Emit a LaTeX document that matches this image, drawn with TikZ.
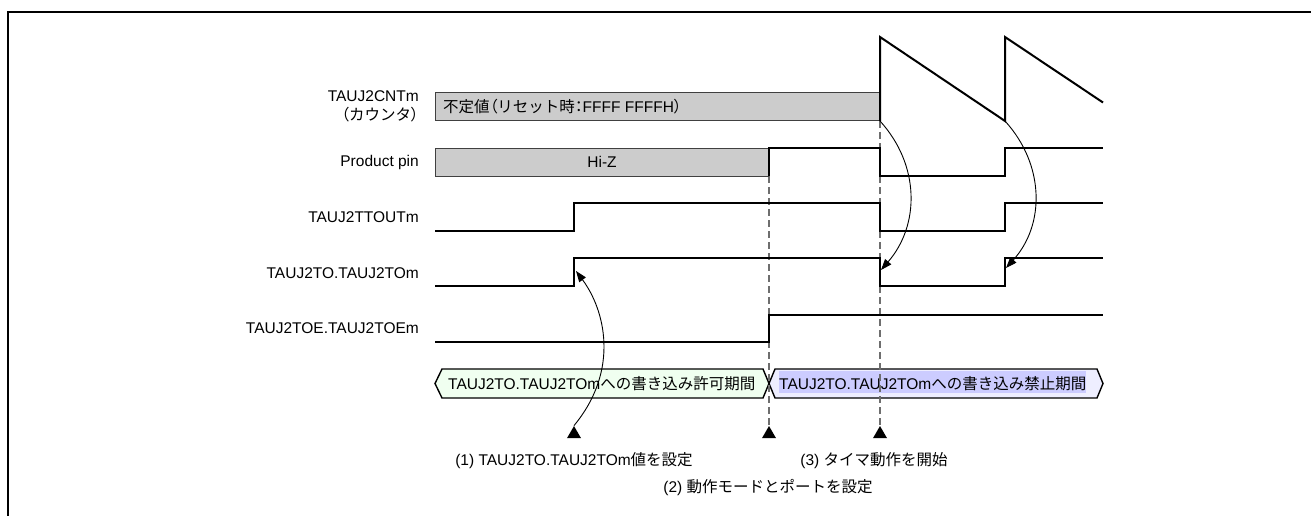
\documentclass[tikz,border=0pt]{standalone}
\usepackage{fontspec}
\setmainfont{Liberation Sans}
\newfontfamily\jpfont{Noto Sans CJK JP}
\newfontfamily\jppalt[RawFeature={+palt}]{Noto Sans CJK JP}
\newcommand\jt[1]{{\jpfont #1}}
\newcommand\jpn[1]{{\jppalt #1}}
\usetikzlibrary{arrows.meta,shapes.geometric}
\definecolor{hizgray}{RGB}{204,204,204}
\definecolor{okgreen}{RGB}{240,255,240}
\definecolor{ngblue}{RGB}{238,238,255}
\definecolor{nghl}{RGB}{204,204,255}
\definecolor{dashgray}{RGB}{110,110,110}
\begin{document}
\begin{tikzpicture}[x=1pt,y=-1pt,
  every node/.style={font=\fontsize{15.5}{18}\selectfont, inner sep=0pt},
  lbl/.style={anchor=base east},
  wave/.style={line width=2pt, line join=miter},
  hizline/.style={draw=black!75, line width=1pt},
  hexbox/.style={draw=black, line width=1.4pt, line join=miter},
  guide/.style={draw=dashgray, dash pattern=on 7pt off 4pt, line width=1.6pt},
  marker/.style={regular polygon, regular polygon sides=3, minimum size=16.2pt, fill=black, inner sep=0pt},
  link/.style={line width=0.9pt, -{Triangle[length=11pt,width=8pt]}},
]
\useasboundingbox (0,0) rectangle (1311,516);
\draw[line width=2.5pt] (8,516) -- (8,12) -- (1311,12);

% signal labels
\node[lbl] (lcnt) at (419,102) {TAUJ2CNTm};
\node[lbl] (lcnt2) at (419,121) {\jpn{（}\jt{カウンタ}\jpn{）}};
\node[lbl] (lpin) at (419,166.5) {Product pin};
\node[lbl] (lttout) at (419,222.5) {TAUJ2TTOUTm};
\node[lbl] (lto) at (419,278) {TAUJ2TO.TAUJ2TOm};
\node[lbl] (ltoe) at (419,333) {TAUJ2TOE.TAUJ2TOEm};

% period hexagons
\draw[hexbox, fill=okgreen] (435,383.5) -- (442,369) -- (763,369) -- (769,383.5) -- (763,398) -- (442,398) -- cycle;
\node[anchor=base west] (okt) at (448,389) {TAUJ2TO.TAUJ2TOm\jt{への書き込み許可期間}};
\draw[hexbox, fill=ngblue] (769,383.5) -- (775,369) -- (1097,369) -- (1103,383.5) -- (1097,398) -- (775,398) -- cycle;
\node[anchor=base west, fill=nghl, text height=16pt, text depth=2pt, inner ysep=2pt] (ngt) at (779,389) {TAUJ2TO.TAUJ2TOm\jt{への書き込み禁止期間}};

% markers
\node[marker] (m1) at (574,434.1) {};
\node[marker] (m2) at (769,434.1) {};
\node[marker] (m3) at (880,434.1) {};

% guides
\coordinate (pinrise) at (769,176);
\coordinate (cntlow1) at (880,121);
\coordinate (cntlow2) at (1005,121);
\draw[guide] (pinrise) -- (m2.corner 1);
\draw[guide] (cntlow1) -- (m3.corner 1);

% counter
\fill[hizgray] (435,93) rectangle (880,121);
\draw[hizline] (880,93) -- (435,93) -- (435,121) -- (880,121);
\node[anchor=base west] (cntval) at (443,113) {\jt{不定値}\jpn{（}\jt{リセット時}\jpn{：}FFFF FFFFH\jpn{）}};
\draw[wave] (cntlow1) -- (880,37) -- (cntlow2) -- (1005,37) -- (1103,102.5);

% product pin
\fill[hizgray] (435,148) rectangle (769,176);
\draw[hizline] (769,148) -- (435,148) -- (435,176) -- (769,176);
\node (hiz) at (602,162) {Hi-Z};
\draw[wave] (pinrise) -- (769,148) -- (880,148) -- (880,176) -- (1005,176) -- (1005,148) -- (1103,148);

% TTOUT
\draw[wave] (435,231) -- (574,231) -- (574,203) -- (880,203) -- (880,231) -- (1005,231) -- (1005,203) -- (1103,203);
% TO
\draw[wave] (435,286) -- (574,286) -- (574,258) -- (880,258) -- (880,286) -- (1005,286) -- (1005,258) -- (1103,258);
% TOE
\draw[wave] (435,342) -- (769,342) -- (769,315) -- (1103,315);

% arrows
\coordinate (toedge1) at (576,271);
\coordinate (toedge2) at (881,270);
\coordinate (toedge3) at (1006,268);
\draw[link] (m1.corner 1) .. controls (620,370) and (605,310) .. (toedge1);
\draw[link] (cntlow1) .. controls (920,165) and (920,225) .. (toedge2);
\draw[link] (cntlow2) .. controls (1045,165) and (1045,225) .. (toedge3);

% step labels
\node[anchor=base] (s1) at (574,465) {(1) TAUJ2TO.TAUJ2TOm\jt{値を設定}};
\node[anchor=base] (s2) at (768,492) {(2) \jt{動作モードとポートを設定}};
\node[anchor=base] (s3) at (874,465) {(3) \jt{タイマ動作を開始}};
\end{tikzpicture}
\end{document}
